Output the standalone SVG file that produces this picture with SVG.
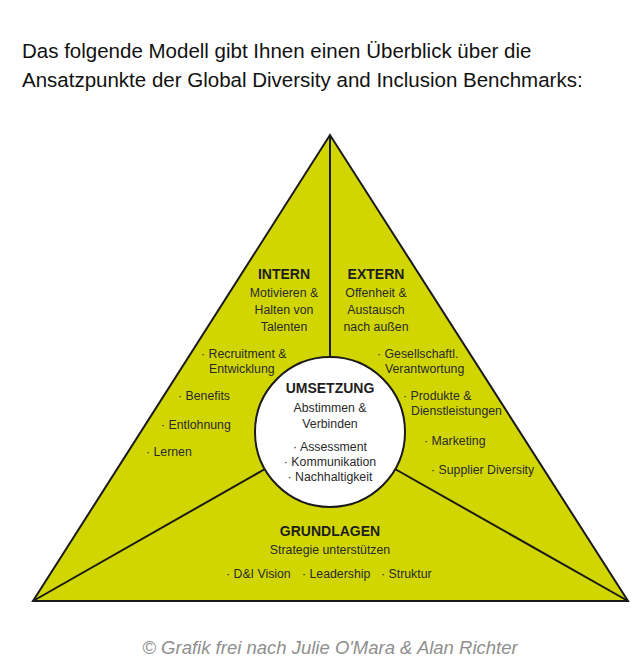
<svg xmlns="http://www.w3.org/2000/svg" width="632" height="664" viewBox="0 0 632 664">
<style>
.t{font-family:"Liberation Sans",Arial,sans-serif;fill:#111;font-size:20.5px}
.h{font-family:"Liberation Sans",Arial,sans-serif;font-weight:bold;fill:#1e1e1e;font-size:14px;text-anchor:middle}
.s{font-family:"Liberation Sans",Arial,sans-serif;fill:#2a2a2a;font-size:12.3px;text-anchor:middle}
.b{font-family:"Liberation Sans",Arial,sans-serif;fill:#2a2a2a;font-size:12.3px}
.ln{stroke:#1a1a1a;stroke-width:2;fill:none}
.cap{font-family:"Liberation Sans",Arial,sans-serif;font-style:italic;fill:#8f8f8f;font-size:18.5px;text-anchor:middle}
</style>
<rect width="632" height="664" fill="#fff"/>
<g id="title">
<text class="t" x="22" y="58">Das folgende Modell gibt Ihnen einen Überblick über die</text>
<text class="t" x="22" y="87">Ansatzpunkte der Global Diversity and Inclusion Benchmarks:</text>
</g>
<g id="triangle">
<polygon points="330,135 33,601 628,601" fill="#d2d600" stroke="#1a1a1a" stroke-width="2" stroke-linejoin="miter"/>
</g>
<g id="connectors">
<line class="ln" x1="330" y1="135" x2="330" y2="358"/>
<line class="ln" x1="265" y1="469" x2="33" y2="601"/>
<line class="ln" x1="395" y1="469" x2="628" y2="601"/>
</g>
<g id="intern">
<text class="h" x="284" y="279">INTERN</text>
<text class="s" x="284" y="297">Motivieren &amp;</text>
<text class="s" x="284" y="314">Halten von</text>
<text class="s" x="284" y="331">Talenten</text>
<text class="b" x="201" y="358">· Recruitment &amp;</text>
<text class="b" x="209" y="373">Entwicklung</text>
<text class="b" x="178" y="400">· Benefits</text>
<text class="b" x="161" y="429">· Entlohnung</text>
<text class="b" x="146" y="456">· Lernen</text>
</g>
<g id="extern">
<text class="h" x="376" y="279">EXTERN</text>
<text class="s" x="376" y="297">Offenheit &amp;</text>
<text class="s" x="376" y="314">Austausch</text>
<text class="s" x="376" y="331">nach außen</text>
<text class="b" x="377" y="358">· Gesellschaftl.</text>
<text class="b" x="385" y="373">Verantwortung</text>
<text class="b" x="403" y="400">· Produkte &amp;</text>
<text class="b" x="411" y="415">Dienstleistungen</text>
<text class="b" x="424" y="445">· Marketing</text>
<text class="b" x="431" y="474">· Supplier Diversity</text>
</g>
<g id="umsetzung">
<circle cx="330" cy="432" r="75" fill="#fff" stroke="#1a1a1a" stroke-width="2"/>
<text class="h" x="330" y="393">UMSETZUNG</text>
<text class="s" x="330" y="412">Abstimmen &amp;</text>
<text class="s" x="330" y="428">Verbinden</text>
<text class="s" x="330" y="451">· Assessment</text>
<text class="s" x="330" y="466">· Kommunikation</text>
<text class="s" x="330" y="481">· Nachhaltigkeit</text>
</g>
<g id="grundlagen">
<text class="h" x="330" y="536">GRUNDLAGEN</text>
<text class="s" x="330" y="554">Strategie unterstützen</text>
<text class="b" x="226" y="578">· D&amp;I Vision</text>
<text class="b" x="302" y="578">· Leadership</text>
<text class="b" x="381" y="578">· Struktur</text>
</g>
<g id="caption">
<text class="cap" x="330" y="654">© Grafik frei nach Julie O'Mara &amp; Alan Richter</text>
</g>
</svg>
